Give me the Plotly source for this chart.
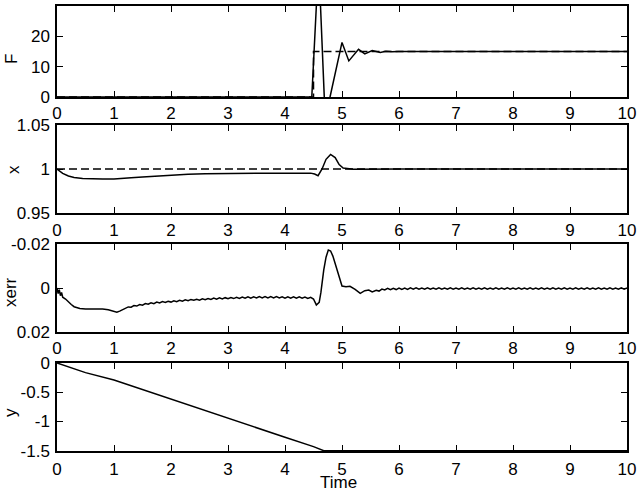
import plotly.graph_objects as go
from plotly.subplots import make_subplots

# ---------------- data ----------------
# Panel 1: F
t_F = [0, 4.47, 4.59, 4.70, 4.73, 4.79, 5.00, 5.12, 5.29, 5.40, 5.53, 5.67, 5.77, 5.88, 5.99, 6.1, 10]
F = [0, 0, 45, -5, -8, 0, 18.0, 11.9, 15.7, 14.2, 15.3, 14.7, 15.1, 14.9, 15.0, 15.0, 15.0]
t_Fref = [0, 4.5, 4.5, 10]
Fref = [0, 0, 15, 15]

# Panel 2: x
t_x = [0, 0.1, 0.2, 0.3, 0.45, 0.6, 0.8, 1.0, 1.1, 1.3, 1.5, 1.8, 2.0, 2.3, 2.6, 3.0, 3.5, 4.0,
       4.45, 4.52, 4.58, 4.65, 4.72, 4.80, 4.88, 4.95, 5.02, 5.2, 5.5, 6.0, 10]
x = [1.0, 0.995, 0.992, 0.9903, 0.9893, 0.9887, 0.9887, 0.9886, 0.9888, 0.9900, 0.9910, 0.9922,
     0.9932, 0.9940, 0.9945, 0.9950, 0.9952, 0.9953, 0.9953, 0.9943, 0.9924, 1.0, 1.011, 1.0165,
     1.013, 1.005, 1.001, 0.9998, 0.9997, 1.0, 1.0]
t_xref = [0, 10]
xref = [1.0, 1.0]

# Panel 3: xerr
t_xerr = [0, 0.02, 0.04, 0.06, 0.08, 0.1, 0.15, 0.2, 0.25, 0.3, 0.4, 0.5, 0.6, 0.7, 0.8, 0.9,
          1.0, 1.05, 1.1, 1.15,
          1.20, 1.25, 1.30, 1.35, 1.40, 1.45, 1.50, 1.55, 1.60, 1.65, 1.70, 1.75, 1.80, 1.85,
          1.90, 1.95, 2.00, 2.05, 2.10, 2.15, 2.20, 2.25, 2.30, 2.35, 2.40, 2.45, 2.50, 2.55,
          2.60, 2.65, 2.70, 2.75, 2.80, 2.85, 2.90, 2.95, 3.00, 3.05, 3.10, 3.15, 3.20, 3.25,
          3.30, 3.35, 3.40, 3.45, 3.50, 3.55, 3.60, 3.65, 3.70, 3.75, 3.80, 3.85, 3.90, 3.95,
          4.00, 4.05, 4.10, 4.15, 4.20, 4.25, 4.30, 4.35, 4.40, 4.45,
          4.50, 4.55, 4.60, 4.63, 4.68, 4.72, 4.76, 4.80, 4.84, 4.91, 4.96, 5.00, 5.07, 5.14,
          5.23, 5.32, 5.40, 5.47, 5.53, 5.60, 5.65, 5.70,
          5.75, 5.80, 5.85, 5.90, 5.95, 6.00, 6.05, 6.10, 6.15, 6.20, 6.25, 6.30, 6.35, 6.40,
          6.45, 6.50, 6.55, 6.60, 6.65, 6.70, 6.75, 6.80, 6.85, 6.90, 6.95, 7.00, 7.05, 7.10,
          7.15, 7.20, 7.25, 7.30, 7.35, 7.40, 7.45, 7.50, 7.55, 7.60, 7.65, 7.70, 7.75, 7.80,
          7.85, 7.90, 7.95, 8.00, 8.05, 8.10, 8.15, 8.20, 8.25, 8.30, 8.35, 8.40, 8.45, 8.50,
          8.55, 8.60, 8.65, 8.70, 8.75, 8.80, 8.85, 8.90, 8.95, 9.00, 9.05, 9.10, 9.15, 9.20,
          9.25, 9.30, 9.35, 9.40, 9.45, 9.50, 9.55, 9.60, 9.65, 9.70, 9.75, 9.80, 9.85, 9.90,
          9.95, 10.00]
xerr = [0, 0.0025, 0.0008, 0.0035, 0.0020, 0.0042, 0.0050, 0.0065, 0.0075, 0.0085, 0.0093,
        0.0095, 0.0095, 0.0095, 0.0096, 0.0099, 0.0105, 0.0110, 0.0105, 0.0098,
        0.0092, 0.0086, 0.0087, 0.0080, 0.0082, 0.0075, 0.0078, 0.0071, 0.0074, 0.0067,
        0.0071, 0.0064, 0.0068, 0.0062, 0.0066, 0.0060, 0.0064, 0.0058, 0.0062, 0.0056,
        0.0060, 0.0054, 0.0058, 0.0052, 0.0056, 0.0051, 0.0055, 0.0049, 0.0053, 0.0048,
        0.0052, 0.0046, 0.0051, 0.0045, 0.0050, 0.0044, 0.0049, 0.0043, 0.0048, 0.0042,
        0.0047, 0.0041, 0.0046, 0.0040, 0.0046, 0.0040, 0.0045, 0.0039, 0.0045, 0.0039,
        0.0045, 0.0039, 0.0045, 0.0039, 0.0045, 0.0040, 0.0046, 0.0040, 0.0046, 0.0040,
        0.0046, 0.0040, 0.0046, 0.0041, 0.0047, 0.0042,
        0.0050, 0.0077, 0.0065, 0.0020, -0.0082, -0.0140, -0.0173, -0.0168, -0.0145, -0.0082,
        -0.0040, -0.0009, -0.0006, -0.0008, 0.0006, 0.0024, 0.0012, 0.0009, 0.0018, 0.0010,
        0.0014, 0.0005,
        0.0009, 0.0002, 0.0008, 0.0001, 0.0007, 0.0000, 0.0006, 0.0000, 0.0006, -0.0001,
        0.0005, -0.0001, 0.0005, 0.0000, 0.0005, -0.0001, 0.0005, 0.0000, 0.0005, -0.0001,
        0.0005, 0.0000, 0.0005, -0.0001, 0.0005, 0.0000, 0.0005, -0.0001, 0.0005, 0.0000,
        0.0005, -0.0001, 0.0005, 0.0000, 0.0005, -0.0001, 0.0005, 0.0000, 0.0005, -0.0001,
        0.0005, 0.0000, 0.0005, -0.0001, 0.0005, 0.0000, 0.0005, -0.0001, 0.0005, 0.0000,
        0.0005, -0.0001, 0.0005, 0.0000, 0.0005, -0.0001, 0.0005, 0.0000, 0.0005, -0.0001,
        0.0005, 0.0000, 0.0005, -0.0001, 0.0005, 0.0000, 0.0005, -0.0001, 0.0005, 0.0000,
        0.0005, -0.0001, 0.0005, 0.0000, 0.0005, -0.0001, 0.0005, 0.0000, 0.0005, -0.0001,
        0.0005, 0.0000, 0.0005, -0.0001, 0.0005, 0.0000]

# Panel 4: y
t_y = [0, 0.25, 0.5, 1.0, 1.5, 2.0, 2.5, 3.0, 3.5, 4.0, 4.5, 4.68, 10]
y = [0, -0.085, -0.165, -0.29, -0.455, -0.62, -0.78, -0.94, -1.105, -1.27, -1.43, -1.5, -1.5]

x_ticks = [0, 1, 2, 3, 4, 5, 6, 7, 8, 9, 10]
F_ticks = [0, 10, 20]
x_yticks = [0.95, 1.0, 1.05]
x_yticklabels = ["0.95", "1", "1.05"]
xerr_ticks = [-0.02, 0, 0.02]
xerr_ticklabels = ["-0.02", "0", "0.02"]
y_ticks = [0, -0.5, -1, -1.5]
y_ticklabels = ["0", "-0.5", "-1", "-1.5"]

ylabels = ["F", "x", "xerr", "y"]
xlabel = "Time"

# ---------------- figure ----------------
FONT = "Liberation Sans, Arial, Helvetica, sans-serif"
fig = make_subplots(rows=4, cols=1)

line = dict(color="black", width=1.5)
dline = dict(color="black", width=1.5, dash="8px,4px")

fig.add_trace(go.Scatter(x=t_Fref, y=Fref, mode="lines", line=dline), row=1, col=1)
fig.add_trace(go.Scatter(x=t_F, y=F, mode="lines", line=line), row=1, col=1)
fig.add_trace(go.Scatter(x=t_xref, y=xref, mode="lines", line=dline), row=2, col=1)
fig.add_trace(go.Scatter(x=t_x, y=x, mode="lines", line=line), row=2, col=1)
fig.add_trace(go.Scatter(x=t_xerr, y=xerr, mode="lines", line=line), row=3, col=1)
fig.add_trace(go.Scatter(x=t_y, y=y, mode="lines", line=line), row=4, col=1)

H = 445.0
def dom(top_px, bot_px):
    return [(451 - bot_px) / H, (451 - top_px) / H]

domains = [dom(6, 97), dom(125, 213), dom(244, 332), dom(363, 451)]
x_standoffs = [0, 1, 0, 2]

axis_common = dict(
    showline=True, linecolor="black", linewidth=1.5, mirror="ticks",
    ticks="inside", ticklen=6, tickwidth=1.3, tickcolor="black",
    showgrid=False, zeroline=False,
    tickfont=dict(family=FONT, size=17, color="black"),
)

for i in range(4):
    fig.update_xaxes(range=[0, 10], tickvals=x_ticks, ticklabelstandoff=x_standoffs[i],
                     row=i + 1, col=1, **axis_common)
    fig.update_yaxes(domain=domains[i], ticklabelstandoff=2, row=i + 1, col=1, **axis_common)

fig.update_yaxes(range=[0, 30], tickvals=F_ticks, row=1, col=1)
fig.update_yaxes(range=[0.95, 1.05], tickvals=x_yticks, ticktext=x_yticklabels, row=2, col=1)
fig.update_yaxes(range=[0.02, -0.02], tickvals=xerr_ticks, ticktext=xerr_ticklabels, row=3, col=1)
fig.update_yaxes(range=[-1.505, 0], tickvals=y_ticks, ticktext=y_ticklabels, row=4, col=1)

label_pos = [(11, 59), (13, 170), (10, 292), (10, 412)]
for txt, (px, py) in zip(ylabels, label_pos):
    fig.add_annotation(text=txt, xref="paper", yref="paper",
                       x=(px - 57) / 570.0, y=(451 - py) / H,
                       xanchor="center", yanchor="middle", textangle=-90, showarrow=False,
                       font=dict(family=FONT, size=17, color="black"))

fig.add_annotation(text=xlabel, xref="paper", yref="paper",
                   x=(338 - 57) / 570.0, y=(451 - 483) / H,
                   xanchor="center", yanchor="middle", showarrow=False,
                   font=dict(family=FONT, size=17, color="black"))

fig.update_layout(
    template="none",
    width=638, height=492,
    margin=dict(l=57, r=11, t=6, b=41, autoexpand=False),
    showlegend=False,
    paper_bgcolor="white", plot_bgcolor="white",
    font=dict(family=FONT, size=17, color="black"),
)

fig.write_html("out.html")
